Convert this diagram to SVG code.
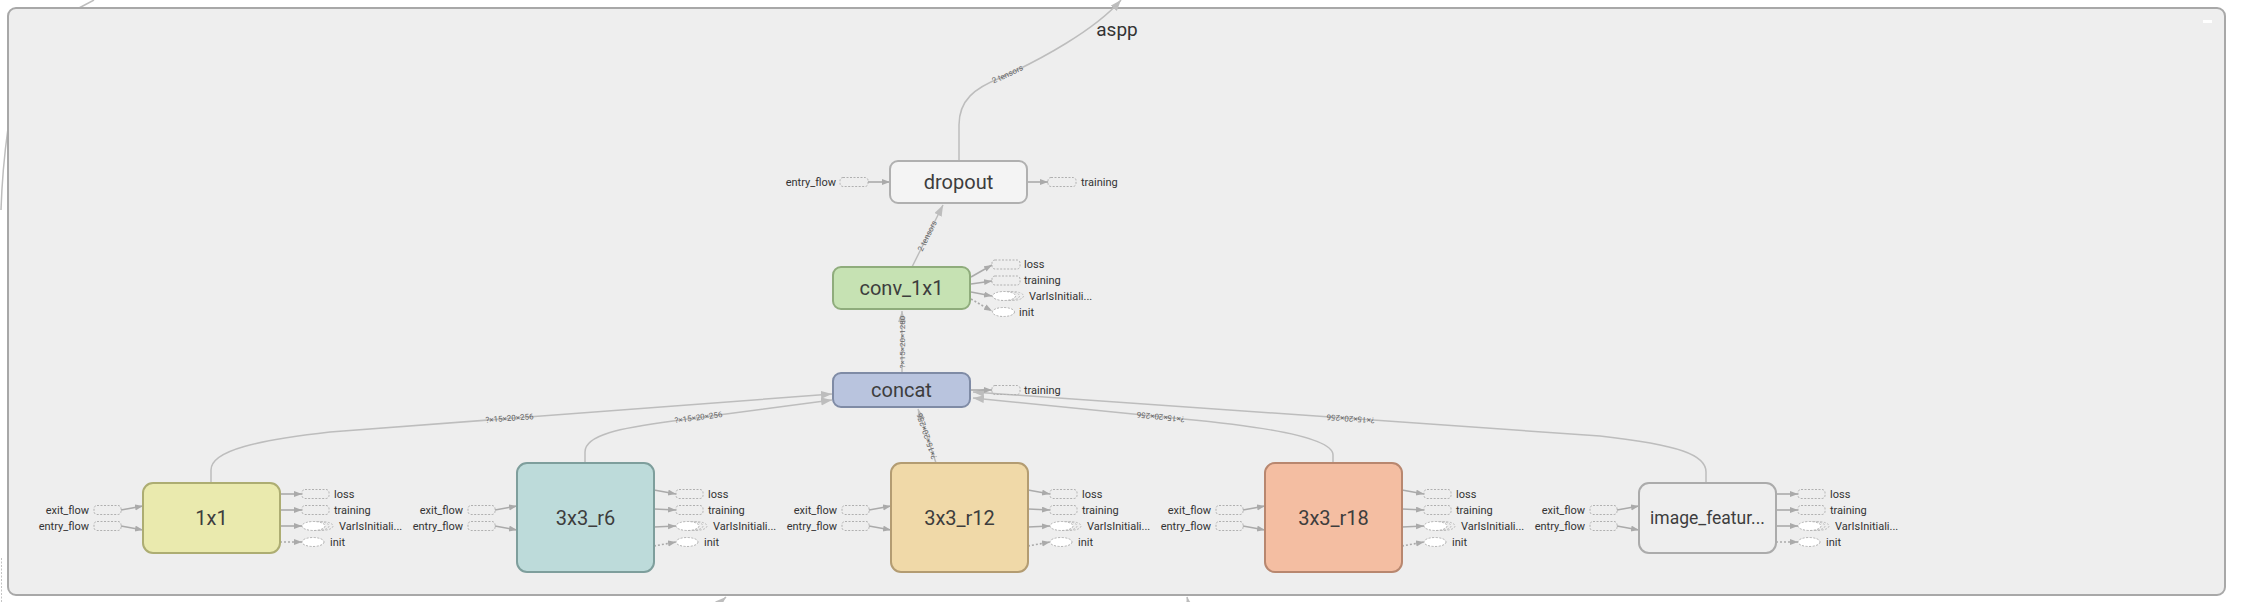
<svg xmlns="http://www.w3.org/2000/svg" xmlns:xlink="http://www.w3.org/1999/xlink" width="2245" height="602" viewBox="0 0 2245 602">
<style>
text{font-family:Roboto,"Liberation Sans",sans-serif}
.nl{font-size:20px;fill:#3d3d3d;text-anchor:middle}
.sl{font-size:11px;fill:#333}
.sr{font-size:11px;fill:#333;text-anchor:end}
.el{font-size:8px;fill:#666}
.de{fill:none;stroke:#bdbdbd;stroke-width:1.5;marker-end:url(#big)}
.se{fill:none;stroke:#aaa;stroke-width:1.6;marker-end:url(#sm)}
.ce{fill:none;stroke:#aaa;stroke-width:1.6;stroke-dasharray:2 2;marker-end:url(#sm)}
.dr{fill:none;stroke:#b0b0b0;stroke-width:1;stroke-dasharray:2 1.5}
.de2{fill:#fff;stroke:#b0b0b0;stroke-width:1;stroke-dasharray:2 1.5}
.db{fill:none;stroke:#bdbdbd;stroke-width:1;stroke-dasharray:2 1.5}
</style>
<defs>
<marker id="big" markerUnits="userSpaceOnUse" markerWidth="12" markerHeight="9" refX="11" refY="4" orient="auto"><path d="M0,0 L11,4 L0,8 z" fill="#bdbdbd"/></marker>
<marker id="sm" markerUnits="userSpaceOnUse" markerWidth="9" markerHeight="7" refX="8" refY="3" orient="auto"><path d="M0,0 L8,3 L0,6 z" fill="#aaa"/></marker>
</defs>
<rect width="2245" height="602" fill="#fff"/>
<g id="outside">
<path d="M79,8 L94,0" fill="none" stroke="#bdbdbd" stroke-width="1.5"/>
<path d="M8,128 C5,150 2,178 1,210" fill="none" stroke="#bdbdbd" stroke-width="1.5"/>
<line x1="1.5" y1="558" x2="1.5" y2="602" stroke="#c4c4c4" stroke-width="1" stroke-dasharray="2 1.5"/>
</g>
<g id="aspp">
<rect x="8" y="8" width="2217" height="587" rx="8" fill="#eeeeee" stroke="#a8a8a8" stroke-width="2"/>
<text x="1117" y="36" style="font-size:19px;fill:#333;text-anchor:middle">aspp</text>
<rect x="2203" y="20" width="9" height="3" fill="#fff"/>
</g>
<g id="connectors">
<path d="M712,610 L726,597" class="de"/>
<path d="M1190,610 L1187,597" class="de"/>
<path id="e_drop_out" d="M959,161 V125 C959,100 975,88 1000,78 C1040,60 1095,30 1121,0" class="de"/>
<path id="e_conv_drop" d="M912,267 L943,205" class="de"/>
<path id="e_concat_conv" d="M902,373 L902,311" class="de"/>
<path id="e_1x1" d="M211,483 V470 C211,450 260,440 330,432 L832,394" class="de"/>
<path id="e_r6" d="M585,463 V452 C585,435 620,428 673,421 L832,400" class="de"/>
<path id="e_r12" d="M936,463 L918,409" class="de"/>
<path id="e_r18" d="M1333,463 V455 C1333,440 1280,428 1183,419 L973,398" class="de"/>
<path id="e_img" d="M1706,483 V472 C1706,455 1680,445 1600,436 L973,392" class="de"/>
<text class="el" dy="2.5"><textPath href="#e_drop_out" startOffset="45%" text-anchor="middle">2 tensors</textPath></text>
<text class="el" dy="2.5"><textPath href="#e_conv_drop" startOffset="50%" text-anchor="middle">2 tensors</textPath></text>
<text class="el" dy="2.5"><textPath href="#e_concat_conv" startOffset="50%" text-anchor="middle">?×15×20×1280</textPath></text>
<text class="el" dy="2.5"><textPath href="#e_1x1" startOffset="50%" text-anchor="middle">?×15×20×256</textPath></text>
<text class="el" dy="2.5"><textPath href="#e_r6" startOffset="50%" text-anchor="middle">?×15×20×256</textPath></text>
<text class="el" dy="2.5"><textPath href="#e_r12" startOffset="50%" text-anchor="middle">?×15×20×256</textPath></text>
<text class="el" dy="2.5"><textPath href="#e_r18" startOffset="50%" text-anchor="middle">?×15×20×256</textPath></text>
<text class="el" dy="2.5"><textPath href="#e_img" startOffset="50%" text-anchor="middle">?×15×20×256</textPath></text>
<path d="M868,182 L890,182" class="se"/>
<path d="M1027,182 L1048,182" class="se"/>
<path d="M971,277 L992,265" class="se"/>
<path d="M971,284 L992,281" class="se"/>
<path d="M971,292 L992,296" class="se"/>
<path d="M971,299 L992,311" class="ce"/>
<path d="M971,390 L992,390" class="se"/>
<path d="M121,510 L143,506" class="se"/><path d="M121,526 L143,530" class="se"/>
<path d="M280,494 L302,494" class="se"/><path d="M280,510 L302,510" class="se"/><path d="M280,526 L302,526" class="se"/><path d="M280,542 L302,542" class="ce"/>
<path d="M495,510 L517,506" class="se"/><path d="M495,526 L517,530" class="se"/>
<path d="M654,490 L676,494" class="se"/><path d="M654,509 L676,510" class="se"/><path d="M654,527 L676,526" class="se"/><path d="M654,546 L676,542" class="ce"/>
<path d="M869,510 L891,506" class="se"/><path d="M869,526 L891,530" class="se"/>
<path d="M1028,490 L1050,494" class="se"/><path d="M1028,509 L1050,510" class="se"/><path d="M1028,527 L1050,526" class="se"/><path d="M1028,546 L1050,542" class="ce"/>
<path d="M1243,510 L1265,506" class="se"/><path d="M1243,526 L1265,530" class="se"/>
<path d="M1402,490 L1424,494" class="se"/><path d="M1402,509 L1424,510" class="se"/><path d="M1402,527 L1424,526" class="se"/><path d="M1402,546 L1424,542" class="ce"/>
<path d="M1617,510 L1639,506" class="se"/><path d="M1617,526 L1639,530" class="se"/>
<path d="M1776,494 L1798,494" class="se"/><path d="M1776,510 L1798,510" class="se"/><path d="M1776,526 L1798,526" class="se"/><path d="M1776,542 L1798,542" class="ce"/>
</g>
<g id="dropout">
<rect x="890" y="161" width="137" height="42" rx="8" fill="#f4f4f4" stroke="#b0b0b0" stroke-width="2"/>
<text class="nl" x="958.5" y="189">dropout</text>
<text class="sr" x="836" y="186">entry_flow</text>
<rect class="dr" x="840" y="177.5" width="28" height="9" rx="3"/>
<rect class="dr" x="1048" y="177.5" width="28" height="9" rx="3"/>
<text class="sl" x="1081" y="186">training</text>
</g>
<g id="conv_1x1">
<rect x="833" y="267" width="137" height="42" rx="8" fill="#c6e2b3" stroke="#8fac7c" stroke-width="2"/>
<text class="nl" x="901.5" y="295">conv_1x1</text>
<rect class="dr" x="992" y="260" width="28" height="9" rx="3"/><text class="sl" x="1024" y="268">loss</text>
<rect class="dr" x="992" y="276" width="28" height="9" rx="3"/><text class="sl" x="1024" y="284">training</text>
<ellipse class="db" cx="1012" cy="296" rx="11.5" ry="4.5"/><ellipse class="db" cx="1008" cy="296" rx="11.5" ry="4.5"/><ellipse class="de2" cx="1004" cy="296" rx="11.5" ry="4.5"/><text class="sl" x="1029" y="300">VarIsInitiali...</text>
<ellipse class="de2" cx="1003.5" cy="312" rx="11" ry="4.5"/><text class="sl" x="1019" y="316">init</text>
</g>
<g id="concat">
<rect x="833" y="373" width="137" height="34" rx="8" fill="#b9c4de" stroke="#7f8ba5" stroke-width="2"/>
<text class="nl" x="901.5" y="397">concat</text>
<rect class="dr" x="992" y="385.5" width="28" height="9" rx="3"/><text class="sl" x="1024" y="394">training</text>
</g>
<g id="n1x1">
<rect x="143" y="483" width="137" height="70" rx="10" fill="#eaeaae" stroke="#adad72" stroke-width="2"/>
<text class="nl" x="211.5" y="525">1x1</text>
<text class="sr" x="89" y="514">exit_flow</text><rect class="dr" x="94" y="505.5" width="27" height="9" rx="3"/>
<text class="sr" x="89" y="530">entry_flow</text><rect class="dr" x="94" y="521.5" width="27" height="9" rx="3"/>
<rect class="dr" x="302" y="489.5" width="27" height="9" rx="3"/><text class="sl" x="334" y="498">loss</text>
<rect class="dr" x="302" y="505.5" width="27" height="9" rx="3"/><text class="sl" x="334" y="514">training</text>
<ellipse class="db" cx="321.5" cy="526" rx="11.5" ry="4.5"/><ellipse class="db" cx="317.5" cy="526" rx="11.5" ry="4.5"/><ellipse class="de2" cx="313.5" cy="526" rx="11.5" ry="4.5"/><text class="sl" x="339" y="530">VarIsInitiali...</text>
<ellipse class="de2" cx="313" cy="542" rx="11" ry="4.5"/><text class="sl" x="330" y="546">init</text>
</g>
<g id="n3x3_r6">
<rect x="517" y="463" width="137" height="109" rx="10" fill="#bddbda" stroke="#7e9e9c" stroke-width="2"/>
<text class="nl" x="585.5" y="525">3x3_r6</text>
<text class="sr" x="463" y="514">exit_flow</text><rect class="dr" x="468" y="505.5" width="27" height="9" rx="3"/>
<text class="sr" x="463" y="530">entry_flow</text><rect class="dr" x="468" y="521.5" width="27" height="9" rx="3"/>
<rect class="dr" x="676" y="489.5" width="27" height="9" rx="3"/><text class="sl" x="708" y="498">loss</text>
<rect class="dr" x="676" y="505.5" width="27" height="9" rx="3"/><text class="sl" x="708" y="514">training</text>
<ellipse class="db" cx="695.5" cy="526" rx="11.5" ry="4.5"/><ellipse class="db" cx="691.5" cy="526" rx="11.5" ry="4.5"/><ellipse class="de2" cx="687.5" cy="526" rx="11.5" ry="4.5"/><text class="sl" x="713" y="530">VarIsInitiali...</text>
<ellipse class="de2" cx="687" cy="542" rx="11" ry="4.5"/><text class="sl" x="704" y="546">init</text>
</g>
<g id="n3x3_r12">
<rect x="891" y="463" width="137" height="109" rx="10" fill="#f0d9a8" stroke="#b39c72" stroke-width="2"/>
<text class="nl" x="959.5" y="525">3x3_r12</text>
<text class="sr" x="837" y="514">exit_flow</text><rect class="dr" x="842" y="505.5" width="27" height="9" rx="3"/>
<text class="sr" x="837" y="530">entry_flow</text><rect class="dr" x="842" y="521.5" width="27" height="9" rx="3"/>
<rect class="dr" x="1050" y="489.5" width="27" height="9" rx="3"/><text class="sl" x="1082" y="498">loss</text>
<rect class="dr" x="1050" y="505.5" width="27" height="9" rx="3"/><text class="sl" x="1082" y="514">training</text>
<ellipse class="db" cx="1069.5" cy="526" rx="11.5" ry="4.5"/><ellipse class="db" cx="1065.5" cy="526" rx="11.5" ry="4.5"/><ellipse class="de2" cx="1061.5" cy="526" rx="11.5" ry="4.5"/><text class="sl" x="1087" y="530">VarIsInitiali...</text>
<ellipse class="de2" cx="1061" cy="542" rx="11" ry="4.5"/><text class="sl" x="1078" y="546">init</text>
</g>
<g id="n3x3_r18">
<rect x="1265" y="463" width="137" height="109" rx="10" fill="#f4bea2" stroke="#b8876f" stroke-width="2"/>
<text class="nl" x="1333.5" y="525">3x3_r18</text>
<text class="sr" x="1211" y="514">exit_flow</text><rect class="dr" x="1216" y="505.5" width="27" height="9" rx="3"/>
<text class="sr" x="1211" y="530">entry_flow</text><rect class="dr" x="1216" y="521.5" width="27" height="9" rx="3"/>
<rect class="dr" x="1424" y="489.5" width="27" height="9" rx="3"/><text class="sl" x="1456" y="498">loss</text>
<rect class="dr" x="1424" y="505.5" width="27" height="9" rx="3"/><text class="sl" x="1456" y="514">training</text>
<ellipse class="db" cx="1443.5" cy="526" rx="11.5" ry="4.5"/><ellipse class="db" cx="1439.5" cy="526" rx="11.5" ry="4.5"/><ellipse class="de2" cx="1435.5" cy="526" rx="11.5" ry="4.5"/><text class="sl" x="1461" y="530">VarIsInitiali...</text>
<ellipse class="de2" cx="1435" cy="542" rx="11" ry="4.5"/><text class="sl" x="1452" y="546">init</text>
</g>
<g id="image_features">
<rect x="1639" y="483" width="137" height="70" rx="10" fill="#eeeeee" stroke="#ababab" stroke-width="2"/>
<text class="nl" x="1707.5" y="524" style="font-size:17.5px">image_featur...</text>
<text class="sr" x="1585" y="514">exit_flow</text><rect class="dr" x="1590" y="505.5" width="27" height="9" rx="3"/>
<text class="sr" x="1585" y="530">entry_flow</text><rect class="dr" x="1590" y="521.5" width="27" height="9" rx="3"/>
<rect class="dr" x="1798" y="489.5" width="27" height="9" rx="3"/><text class="sl" x="1830" y="498">loss</text>
<rect class="dr" x="1798" y="505.5" width="27" height="9" rx="3"/><text class="sl" x="1830" y="514">training</text>
<ellipse class="db" cx="1817.5" cy="526" rx="11.5" ry="4.5"/><ellipse class="db" cx="1813.5" cy="526" rx="11.5" ry="4.5"/><ellipse class="de2" cx="1809.5" cy="526" rx="11.5" ry="4.5"/><text class="sl" x="1835" y="530">VarIsInitiali...</text>
<ellipse class="de2" cx="1809" cy="542" rx="11" ry="4.5"/><text class="sl" x="1826" y="546">init</text>
</g>
</svg>
